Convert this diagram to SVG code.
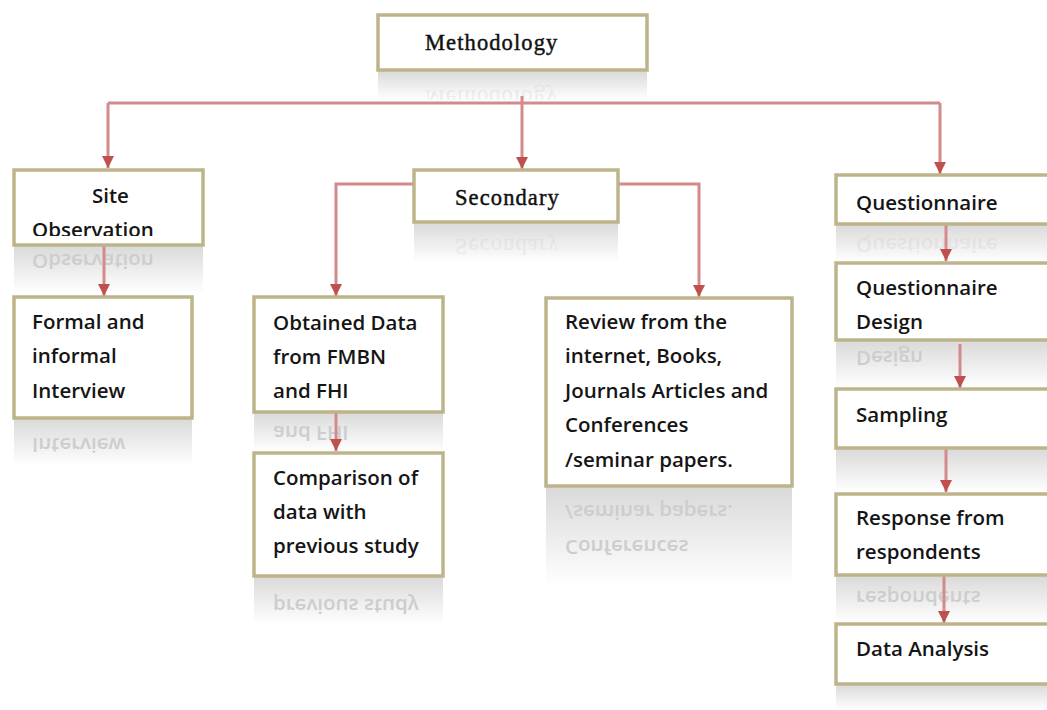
<svg xmlns="http://www.w3.org/2000/svg" width="1047" height="710" viewBox="0 0 1047 710">
<style>
.box{fill:#fff;stroke:#BDB48B;stroke-width:3.5}
.serif{font-family:"Liberation Serif",serif;font-size:22.5px;fill:#111;stroke:#111;stroke-width:0.45;letter-spacing:1.1px}
.sans{font-family:"Open Sans","Liberation Sans",sans-serif;font-size:20.5px;font-weight:600;fill:#151515}
.rt{font-family:"Open Sans","Liberation Sans",sans-serif;font-size:20.5px;font-weight:600;fill:#cdcdcd}
.rts{font-family:"Liberation Serif",serif;font-size:22.5px;fill:#d2d2d2;letter-spacing:1.1px}
.conn{fill:none;stroke:#D48A8A;stroke-width:3}
</style>
<defs>
<linearGradient id="refl" x1="0" y1="0" x2="0" y2="1">
<stop offset="0" stop-color="#d9d9d9"/>
<stop offset="1" stop-color="#ffffff"/>
</linearGradient>
<marker id="arr" markerUnits="userSpaceOnUse" markerWidth="12" markerHeight="12" viewBox="0 0 12 12" refX="12" refY="6" orient="auto">
<path d="M0,0 L12,6 L0,12 z" fill="#C0504D"/>
</marker>
<clipPath id="clipSite"><rect x="14" y="170" width="189" height="66"/></clipPath>
</defs>

<!-- reflections -->
<g id="reflections">
<svg x="378" y="70" width="269" height="30" viewBox="378 70 269 30"><rect x="378" y="70" width="269" height="30" fill="url(#refl)"/><text class="rts" x="425" y="50" transform="translate(0,140) scale(1,-1)" opacity="0.35">Methodology</text></svg>
<svg x="14" y="245" width="189" height="48" viewBox="14 245 189 48"><rect x="14" y="245" width="189" height="48" fill="url(#refl)"/><text class="rt" x="32" y="236" transform="translate(0,490) scale(1,-1)">Observation</text></svg>
<svg x="14" y="418" width="178" height="48" viewBox="14 418 178 48"><rect x="14" y="418" width="178" height="48" fill="url(#refl)"/><text class="rt" x="32" y="398" transform="translate(0,836) scale(1,-1)">Interview</text></svg>
<svg x="414" y="222" width="204" height="40" viewBox="414 222 204 40"><rect x="414" y="222" width="204" height="40" fill="url(#refl)"/><text class="rts" x="455" y="205" transform="translate(0,444) scale(1,-1)" opacity="0.35">Secondary</text></svg>
<svg x="254" y="412" width="189" height="40" viewBox="254 412 189 40"><rect x="254" y="412" width="189" height="40" fill="url(#refl)"/><text class="rt" x="273" y="398" transform="translate(0,824) scale(1,-1)">and FHI</text></svg>
<svg x="254" y="576" width="189" height="48" viewBox="254 576 189 48"><rect x="254" y="576" width="189" height="48" fill="url(#refl)"/><text class="rt" x="273" y="553" transform="translate(0,1152) scale(1,-1)">previous study</text></svg>
<svg x="546" y="486" width="246" height="100" viewBox="546 486 246 100"><rect x="546" y="486" width="246" height="100" fill="url(#refl)"/><text class="rt" transform="translate(0,972) scale(1,-1)"><tspan x="565" y="432">Conferences</tspan><tspan x="565" y="467">/seminar papers.</tspan></text></svg>
<svg x="836" y="224" width="211" height="38" viewBox="836 224 211 38"><rect x="836" y="224" width="211" height="38" fill="url(#refl)"/><text class="rt" x="856" y="210" transform="translate(0,448) scale(1,-1)" opacity="0.3">Questionnaire</text></svg>
<svg x="836" y="340" width="211" height="48" viewBox="836 340 211 48"><rect x="836" y="340" width="211" height="48" fill="url(#refl)"/><text class="rt" x="856" y="329" transform="translate(0,680) scale(1,-1)">Design</text></svg>
<svg x="836" y="448" width="211" height="45" viewBox="836 448 211 45"><rect x="836" y="448" width="211" height="45" fill="url(#refl)"/></svg>
<svg x="836" y="575" width="211" height="48" viewBox="836 575 211 48"><rect x="836" y="575" width="211" height="48" fill="url(#refl)"/><text class="rt" x="856" y="559" transform="translate(0,1150) scale(1,-1)">respondents</text></svg>
<svg x="836" y="684" width="211" height="26" viewBox="836 684 211 26"><rect x="836" y="684" width="211" height="26" fill="url(#refl)"/></svg>
</g>

<g id="connectors">
<path class="conn" d="M522,96 V103"/>
<path class="conn" d="M108,103 H940"/>
<path class="conn" d="M108,103 V168" marker-end="url(#arr)"/>
<path class="conn" d="M522,103 V169" marker-end="url(#arr)"/>
<path class="conn" d="M940,103 V174" marker-end="url(#arr)"/>
<path class="conn" d="M104,245 V296" marker-end="url(#arr)"/>
<path class="conn" d="M414,184 H336 V296" marker-end="url(#arr)"/>
<path class="conn" d="M618,184 H699 V297" marker-end="url(#arr)"/>
<path class="conn" d="M336,412 V451" marker-end="url(#arr)"/>
<path class="conn" d="M946,224 V261" marker-end="url(#arr)"/>
<path class="conn" d="M960,344 V388" marker-end="url(#arr)"/>
<path class="conn" d="M946,449 V492" marker-end="url(#arr)"/>
<path class="conn" d="M944,575 V623" marker-end="url(#arr)"/>
</g>

<g id="methodology">
<rect class="box" x="378" y="15" width="269" height="55"/>
<text class="serif" x="425" y="50">Methodology</text>
</g>

<g id="site-observation">
<rect class="box" x="14" y="170" width="189" height="75"/>
<g clip-path="url(#clipSite)">
<text class="sans" x="92" y="203">Site</text>
<text class="sans" x="32" y="237">Observation</text>
</g>
</g>

<g id="formal-interview">
<rect class="box" x="14" y="297" width="178" height="121"/>
<text class="sans"><tspan x="32" y="329">Formal and</tspan><tspan x="32" y="363">informal</tspan><tspan x="32" y="398">Interview</tspan></text>
</g>

<g id="secondary">
<rect class="box" x="414" y="170" width="204" height="52"/>
<text class="serif" x="455" y="205">Secondary</text>
</g>

<g id="obtained-data">
<rect class="box" x="254" y="297" width="189" height="115"/>
<text class="sans"><tspan x="273" y="330">Obtained Data</tspan><tspan x="273" y="364">from FMBN</tspan><tspan x="273" y="398">and FHI</tspan></text>
</g>

<g id="comparison">
<rect class="box" x="254" y="453" width="189" height="123"/>
<text class="sans"><tspan x="273" y="485">Comparison of</tspan><tspan x="273" y="519">data with</tspan><tspan x="273" y="553">previous study</tspan></text>
</g>

<g id="review">
<rect class="box" x="546" y="298" width="246" height="188"/>
<text class="sans"><tspan x="565" y="329">Review from the</tspan><tspan x="565" y="363">internet, Books,</tspan><tspan x="565" y="398">Journals Articles and</tspan><tspan x="565" y="432">Conferences</tspan><tspan x="565" y="467">/seminar papers.</tspan></text>
</g>

<g id="questionnaire">
<rect class="box" x="836" y="175" width="230" height="49"/>
<text class="sans" x="856" y="210">Questionnaire</text>
</g>

<g id="questionnaire-design">
<rect class="box" x="836" y="263" width="230" height="77"/>
<text class="sans"><tspan x="856" y="295">Questionnaire</tspan><tspan x="856" y="329">Design</tspan></text>
</g>

<g id="sampling">
<rect class="box" x="836" y="389" width="230" height="59"/>
<text class="sans" x="856" y="422">Sampling</text>
</g>

<g id="response">
<rect class="box" x="836" y="494" width="230" height="81"/>
<text class="sans"><tspan x="856" y="525">Response from</tspan><tspan x="856" y="559">respondents</tspan></text>
</g>

<g id="data-analysis">
<rect class="box" x="836" y="624" width="230" height="60"/>
<text class="sans" x="856" y="656">Data Analysis</text>
</g>
</svg>
